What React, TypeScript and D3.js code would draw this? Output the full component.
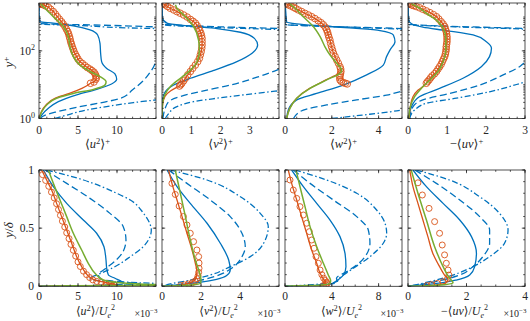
import React from 'react';
import * as d3 from 'd3';

type Pt = [number, number];

// ---------- top row: inner scaling, points are [value, y+] ----------
const uuPlusSolid: Pt[] = [[0.04,1],[0.34,1.26],[1.2,2.0],[2.48,3.16],[4.83,5.01],[7.39,7.24],[9.3,10.5],[9.96,14.5],[9.74,20.9],[8.68,30.2],[8.03,47.9],[7.9,85.1],[7.82,166],[7.52,295],[6.54,417],[4.4,550],[1.84,661],[0.13,724],[0,1288],[0,2630]];
const uuPlusDash: Pt[] = [[0.13,1],[0.8,1.26],[2.3,1.58],[4.8,2.14],[7.8,2.88],[10.5,3.98],[12.0,7.08],[13.5,14.1],[14.5,28.2],[15.5,63.1],[25,158],[30,316],[25,447],[15,513],[8,575],[2,617],[0,646],[0,2630]];
const uuPlusDashDot: Pt[] = [[2.05,1],[3.55,1.26],[6.1,1.78],[9.1,2.34],[12.1,2.95],[15,3.55],[25,10],[40,63.1],[40,251],[20,437],[15,457],[5,562],[0,631],[0,2630]];
const uuPlusGreen: Pt[] = [[0.04,1],[0.34,1.58],[0.98,2.51],[2.26,3.98],[4.4,5.5],[6.97,7.24],[8.46,9.77],[8.6,12.3],[7.82,17.4],[6.54,24.5],[5.26,38.0],[4.4,67.6],[3.97,132],[3.76,263],[3.12,525],[2.05,912],[0.98,1622],[0.21,2455]];
const uuPlusWall: Pt[] = [[0.04,1],[0.3,1.58],[0.9,2.51],[2.1,3.98],[3.9,5.5],[5.5,7.76],[6.3,9.77]];
const uuPlusMarks: Pt[] = [[6.6,11.0],[7.05,12.0],[7.3,14.5],[7.35,16.3],[7.3,18.2],[7.2,20.6],[7.05,23.4],[6.8,26],[6.54,28.8],[6.2,32],[5.9,36.3],[5.58,42],[5.26,47.9],[5.0,57],[4.83,67.6],[4.65,80],[4.49,95.5],[4.38,112],[4.27,132],[4.16,158],[4.06,186],[3.98,225],[3.9,263],[3.8,315],[3.68,372],[3.5,440],[3.33,525],[3.1,620],[2.9,724],[2.62,860],[2.35,1023],[2.1,1220],[1.84,1445],[1.5,1700],[1.2,1950],[0.85,2130],[0.56,2291],[0.3,2400],[0.13,2455],[0.05,2570]];

const vvPlusSolid: Pt[] = [[0,1],[0.02,3.55],[0.11,6.17],[0.4,9.77],[0.97,15.5],[1.77,26.3],[2.56,47.9],[3.08,85.1],[3.27,148],[3.16,234],[2.68,355],[1.88,457],[0.85,550],[0.17,661],[0.02,912],[0,2630]];
const vvPlusDash: Pt[] = [[0.03,1],[0.09,1.78],[0.23,3.16],[0.63,4.47],[1.42,6.6],[2.34,9.77],[3.25,16.6],[3.93,26.9],[5,63.1],[6,200],[5,398],[4,457],[2,513],[0.5,575],[0,631],[0,2630]];
const vvPlusDashDot: Pt[] = [[0.11,1],[0.23,1.41],[0.51,2.24],[1.08,3.16],[1.88,3.98],[2.79,5.01],[3.7,6.17],[4.2,7.0],[6,31.6],[8,158],[6,355],[4,427],[1.5,501],[0,603],[0,2630]];
const vvPlusGreen: Pt[] = [[0,1],[0.02,2.82],[0.09,4.9],[0.28,8.7],[0.63,15.5],[0.97,26.9],[1.2,47.9],[1.28,107],[1.25,209],[1.08,525],[0.8,1023],[0.51,1820],[0.46,2291]];
const vvPlusWall: Pt[] = [[0,1],[0.02,2.5],[0.1,4.5],[0.3,6.6],[0.5,8.3]];
const vvPlusMarks: Pt[] = [[0.6,9.12],[0.64,10],[0.68,11.0],[0.74,13],[0.8,15.5],[0.88,19.5],[0.97,24.5],[1.05,30.5],[1.14,38.0],[1.22,48],[1.28,60.3],[1.31,76],[1.34,95.5],[1.36,120],[1.37,148],[1.37,186],[1.37,234],[1.35,280],[1.33,331],[1.29,400],[1.25,468],[1.2,560],[1.14,661],[1.06,750],[0.97,851],[0.86,1000],[0.74,1148],[0.62,1300],[0.51,1445],[0.4,1620],[0.28,1820],[0.19,2050],[0.11,2291],[0.05,2430],[0,2570]];

const wwPlusSolid: Pt[] = [[0.07,1],[0.14,1.78],[0.5,3.55],[1.35,5.5],[2.49,9.77],[3.49,19.5],[4.2,38.0],[4.34,67.6],[4.49,107],[4.7,186],[4.63,295],[4.06,398],[2.92,468],[1.5,550],[0.5,631],[0.07,724],[0.03,1500],[0,2630]];
const wwPlusDash: Pt[] = [[0.36,1],[0.78,1.78],[1.78,2.51],[3.06,3.55],[4.34,4.9],[4.89,6.17],[7,31.6],[9,158],[7,355],[5,457],[2,525],[0,603],[0,2630]];
const wwPlusDashDot: Pt[] = [[2.0,1],[3.3,1.26],[4.5,1.58],[5.2,1.9],[9,6.3],[12,63.1],[10,251],[5,437],[2,525],[0,603],[0,2630]];
const wwPlusGreen: Pt[] = [[0.07,1],[0.21,2.0],[0.5,3.98],[1.07,7.76],[1.78,13.8],[2.35,21.9],[2.42,26.9],[2.21,42.7],[1.92,75.9],[1.71,132],[1.5,263],[1.21,525],[0.78,1023],[0.43,1820],[0.21,2455]];
const wwPlusWall: Pt[] = [[0.07,1],[0.2,2.0],[0.5,3.98],[1.05,7.76],[1.75,13.8],[2.3,21.9]];
const wwPlusMarks: Pt[] = [[2.66,10.5],[2.58,11],[2.49,11.5],[2.4,12.5],[2.35,13.8],[2.34,16],[2.35,18.2],[2.37,21],[2.39,24.5],[2.38,29],[2.35,33.9],[2.28,43],[2.21,53.7],[2.14,68],[2.07,85.1],[2.03,106],[1.99,132],[1.95,166],[1.92,209],[1.88,250],[1.85,295],[1.82,355],[1.78,417],[1.72,500],[1.64,589],[1.54,680],[1.42,776],[1.28,900],[1.14,1023],[1.0,1150],[0.85,1288],[0.71,1450],[0.57,1622],[0.46,1780],[0.36,1950],[0.25,2120],[0.14,2291],[0.06,2430],[0,2570]];

const uvPlusSolid: Pt[] = [[0.02,1],[0.09,2.24],[0.3,4.47],[0.81,7.76],[1.41,15.5],[1.88,33.9],[2.09,67.6],[2.14,120],[2.01,186],[1.67,295],[0.98,398],[0.38,501],[0.09,631],[0.02,813],[0,2630]];
const uvPlusDash: Pt[] = [[0.04,1],[0.13,2.24],[0.38,3.55],[1.07,5.5],[1.84,9.77],[2.44,19.5],[2.86,33.9],[3.03,47.9],[4,100],[4.5,251],[3.5,417],[3,457],[1,537],[0,617],[0,2630]];
const uvPlusDashDot: Pt[] = [[0.04,1],[0.17,1.78],[0.47,2.82],[1.24,3.98],[2.09,6.17],[3.03,12.3],[5,63.1],[5,251],[3.5,398],[3,437],[1,525],[0,603],[0,2630]];
const uvPlusGreen: Pt[] = [[0.02,1],[0.06,2.24],[0.17,4.47],[0.34,7.76],[0.56,13.8],[0.77,24.5],[0.9,47.9],[0.97,107],[0.97,234],[0.9,468],[0.73,813],[0.47,1288],[0.26,1950],[0.09,2455]];
const uvPlusWall: Pt[] = [[0.03,1],[0.06,2.24],[0.13,4.47],[0.26,6.92],[0.43,9.77]];
const uvPlusMarks: Pt[] = [[0.47,11.0],[0.5,12.3],[0.54,13.8],[0.58,16],[0.62,18.2],[0.68,21],[0.73,24.5],[0.77,29],[0.81,33.9],[0.85,40],[0.88,47.9],[0.91,57],[0.94,67.6],[0.96,81],[0.97,95.5],[0.98,112],[0.98,132],[0.99,158],[1.0,186],[1.0,222],[1.0,263],[0.99,315],[0.98,372],[0.96,440],[0.94,525],[0.9,620],[0.85,724],[0.79,870],[0.73,1023],[0.65,1180],[0.56,1349],[0.47,1520],[0.38,1698],[0.3,1870],[0.21,2042],[0.14,2180],[0.09,2291],[0.04,2430],[0,2570]];

// ---------- bottom row: outer scaling, points are [value x1e3, y/delta] ----------
const uuOutSolid: Pt[] = [[0.56,1],[1.84,0.857],[3.55,0.713],[5.68,0.57],[7.39,0.456],[8.33,0.34],[8.59,0.226],[8.68,0.155],[8.9,0.097],[9.74,0.069],[10.5,0.045],[10.8,0.025],[9.5,0.012],[5,0.004],[0,0]];
const uuOutDash: Pt[] = [[0.77,1],[3.55,0.885],[6.54,0.756],[9.1,0.627],[10.8,0.513],[11.15,0.398],[10.8,0.3],[9.8,0.22],[8.5,0.15],[7.6,0.1],[8.0,0.06],[11,0.035],[13,0.02],[10,0.01],[4,0.004],[0,0]];
const uuOutDashDot: Pt[] = [[1.0,1],[5.7,0.914],[9.96,0.8],[11.7,0.742],[13.4,0.628],[14.2,0.54],[14.4,0.484],[13.2,0.33],[11.7,0.255],[9.5,0.16],[7.5,0.1],[6.5,0.07],[8,0.045],[13,0.03],[16,0.02],[12,0.01],[5,0.004],[0,0]];
const uuOutGreen: Pt[] = [[1.2,1],[1.84,0.885],[2.69,0.742],[3.55,0.599],[4.4,0.456],[5.47,0.312],[6.32,0.198],[7.18,0.112],[8.25,0.054],[10.4,0.031],[12.9,0.02],[16,0.013],[20,0.009],[12,0.0075],[4,0.005],[0,0]];
const uuOutOrange: Pt[] = [[0.34,1],[0.98,0.914],[1.62,0.828],[2.26,0.713],[2.9,0.599],[3.55,0.484],[4.19,0.37],[4.83,0.255],[5.47,0.169],[6.03,0.112],[6.54,0.077],[7.39,0.049],[8.68,0.031],[9.53,0.02],[9.8,0.012],[7,0.006],[2,0.002],[0,0]];
const uuOutMarks: Pt[] = [[0.45,0.96],[0.85,0.91],[1.25,0.86],[1.6,0.81],[1.95,0.76],[2.25,0.71],[2.5,0.66],[2.75,0.61],[3.0,0.56],[3.3,0.51],[3.55,0.46],[3.85,0.41],[4.1,0.36],[4.4,0.31],[4.7,0.26],[5.0,0.21],[5.3,0.17],[5.7,0.13],[6.1,0.1],[6.5,0.075],[6.9,0.055],[7.4,0.042],[8.0,0.032],[8.6,0.025],[9.2,0.018],[9.6,0.012],[9.4,0.007],[8.5,0.003]];

const vvOutSolid: Pt[] = [[0.26,1],[0.77,0.857],[1.45,0.713],[2.31,0.542],[2.99,0.37],[3.42,0.226],[3.5,0.14],[3.3,0.09],[2.8,0.06],[2.0,0.035],[1.0,0.015],[0.3,0.005],[0,0]];
const vvOutDash: Pt[] = [[0.34,1],[1.28,0.885],[2.48,0.742],[3.5,0.599],[4.1,0.456],[4.27,0.341],[4.1,0.255],[3.68,0.169],[2.8,0.09],[1.8,0.045],[0.8,0.015],[0,0]];
const vvOutDashDot: Pt[] = [[0.43,1],[2.31,0.914],[4.02,0.77],[5.04,0.627],[5.45,0.513],[5.21,0.37],[4.53,0.255],[3.5,0.169],[2.48,0.097],[1.45,0.054],[0.43,0.02],[0,0]];
const vvOutGreen: Pt[] = [[0.68,1],[0.94,0.8],[1.2,0.599],[1.45,0.398],[1.71,0.226],[1.93,0.112],[2.0,0.054],[1.97,0.026],[1.5,0.012],[0.5,0.005],[0,0]];
const vvOutOrange: Pt[] = [[0.34,1],[0.51,0.885],[0.77,0.742],[1.03,0.599],[1.28,0.456],[1.54,0.312],[1.71,0.198],[1.79,0.126],[1.75,0.07],[1.5,0.035],[1.1,0.015],[0.8,0]];
const vvOutMarks: Pt[] = [[0.51,0.885],[0.68,0.79],[0.88,0.69],[1.1,0.6],[1.28,0.527],[1.45,0.456],[1.62,0.384],[1.79,0.312],[1.88,0.255],[1.9,0.2],[1.9,0.155],[1.88,0.12],[1.85,0.09],[1.8,0.065],[1.7,0.045],[1.55,0.03],[1.35,0.02],[1.15,0.012],[0.95,0.006]];

const wwOutSolid: Pt[] = [[0.57,1],[1.57,0.857],[2.71,0.713],[3.85,0.57],[4.7,0.427],[5.13,0.283],[5.21,0.169],[4.99,0.097],[4.6,0.06],[4.3,0.035],[3.5,0.015],[1.5,0.004],[0,0]];
const wwOutDash: Pt[] = [[0.71,1],[2.14,0.885],[4.13,0.742],[6.13,0.599],[7.12,0.484],[7.26,0.37],[6.84,0.255],[6.13,0.183],[5.27,0.126],[4.4,0.069],[4.5,0.035],[3.5,0.015],[1.5,0.004],[0,0]];
const wwOutDashDot: Pt[] = [[0.85,1],[3.56,0.914],[6.13,0.8],[7.83,0.656],[8.55,0.542],[8.69,0.456],[8.4,0.37],[7.26,0.255],[5.84,0.155],[4.6,0.069],[4.2,0.035],[2.42,0.015],[0.8,0.004],[0,0]];
const wwOutGreen: Pt[] = [[0.94,1],[1.28,0.857],[1.71,0.685],[2.14,0.513],[2.71,0.341],[3.28,0.198],[3.7,0.097],[3.9,0.048],[3.85,0.026],[3.0,0.01],[1.0,0.004],[0,0]];
const wwOutOrange: Pt[] = [[0.28,1],[0.57,0.885],[1.0,0.742],[1.42,0.599],[1.85,0.456],[2.28,0.312],[2.71,0.198],[3.0,0.112],[3.3,0.06],[3.5,0.03],[3.3,0.012],[2.9,0]];
const wwOutMarks: Pt[] = [[0.43,0.914],[0.71,0.828],[1.0,0.756],[1.28,0.685],[1.57,0.613],[1.85,0.542],[2.08,0.47],[2.28,0.398],[2.48,0.327],[2.65,0.255],[2.85,0.198],[3.0,0.14],[3.15,0.1],[3.3,0.07],[3.45,0.05],[3.55,0.035],[3.6,0.024],[3.5,0.015],[3.3,0.008]];

const uvOutSolid: Pt[] = [[0.17,1],[0.63,0.857],[1.2,0.713],[1.77,0.57],[2.17,0.427],[2.34,0.283],[2.28,0.169],[2.11,0.097],[1.65,0.054],[0.85,0.02],[0,0]];
const uvOutDash: Pt[] = [[0.23,1],[0.97,0.885],[1.77,0.742],[2.45,0.599],[2.79,0.484],[2.79,0.37],[2.56,0.255],[2.22,0.169],[1.77,0.097],[1.08,0.048],[0.28,0.011],[0,0]];
const uvOutDashDot: Pt[] = [[0.28,1],[1.42,0.914],[2.45,0.77],[3.13,0.627],[3.42,0.484],[3.3,0.37],[2.79,0.255],[2.22,0.169],[1.54,0.097],[0.74,0.04],[0.17,0.008],[0,0]];
const uvOutGreen: Pt[] = [[0.11,1],[0.34,0.8],[0.63,0.57],[0.91,0.341],[1.2,0.169],[1.42,0.069],[1.54,0.031],[1.0,0.008],[0.3,0.003],[0,0]];
const uvOutOrange: Pt[] = [[0.06,1],[0.17,0.857],[0.34,0.713],[0.51,0.57],[0.68,0.427],[0.85,0.283],[1.08,0.169],[1.25,0.097],[1.37,0.06],[1.3,0.03],[1.0,0.012],[0.6,0]];
const uvOutMarks: Pt[] = [[0.34,0.89],[0.49,0.785],[0.72,0.67],[0.91,0.556],[1.08,0.456],[1.17,0.355],[1.25,0.27],[1.31,0.198],[1.37,0.14],[1.4,0.097],[1.35,0.065],[1.2,0.04],[1.0,0.025],[0.8,0.014],[0.65,0.006]];

// axis limits and tick labels
const topXMax = [15, 4, 5, 3];
const topXTicks = [[0, 5, 10], [0, 1, 2, 3], [0, 2, 4], [0, 1, 2, 3]];
const topXMinor = [1, 0.2, 0.5, 0.2];
const botXMax = [15, 6, 10, 4];
const botXTicks = [[0, 5, 10], [0, 2, 4], [0, 4, 8], [0, 2, 4]];
const botXMinor = [1, 0.5, 1, 0.5];
const yPlusMax = 2600;
const yPlusTicks = [1, 100];
const yOuterTicks = [0, 0.5, 1];
const components = ['u', 'v', 'w', 'uv'];

const BLUE = '#0072BD';
const ORANGE = '#D95319';
const GREEN = '#77AC30';
const AXIS = '#262626';
const FONT = 'Liberation Serif, Times New Roman, DejaVu Serif, serif';

const colLeft = [39, 162, 285, 408];
const colW = 117;
const rows = [
  { top: 3, bottom: 118.5 },
  { top: 170, bottom: 286.3 },
];

interface Series { solid: Pt[]; dash: Pt[]; dashDot: Pt[]; green: Pt[]; orange: Pt[]; marks: Pt[] }

const joinWall = (wall: Pt[], marks: Pt[]): Pt[] =>
  wall.concat(marks.filter(d => d[1] > wall[wall.length - 1][1]));

const topSeries: Series[] = [
  { solid: uuPlusSolid, dash: uuPlusDash, dashDot: uuPlusDashDot, green: uuPlusGreen, orange: joinWall(uuPlusWall, uuPlusMarks), marks: uuPlusMarks },
  { solid: vvPlusSolid, dash: vvPlusDash, dashDot: vvPlusDashDot, green: vvPlusGreen, orange: joinWall(vvPlusWall, vvPlusMarks), marks: vvPlusMarks },
  { solid: wwPlusSolid, dash: wwPlusDash, dashDot: wwPlusDashDot, green: wwPlusGreen, orange: joinWall(wwPlusWall, wwPlusMarks), marks: wwPlusMarks },
  { solid: uvPlusSolid, dash: uvPlusDash, dashDot: uvPlusDashDot, green: uvPlusGreen, orange: joinWall(uvPlusWall, uvPlusMarks), marks: uvPlusMarks },
];
const botSeries: Series[] = [
  { solid: uuOutSolid, dash: uuOutDash, dashDot: uuOutDashDot, green: uuOutGreen, orange: uuOutOrange, marks: uuOutMarks },
  { solid: vvOutSolid, dash: vvOutDash, dashDot: vvOutDashDot, green: vvOutGreen, orange: vvOutOrange, marks: vvOutMarks },
  { solid: wwOutSolid, dash: wwOutDash, dashDot: wwOutDashDot, green: wwOutGreen, orange: wwOutOrange, marks: wwOutMarks },
  { solid: uvOutSolid, dash: uvOutDash, dashDot: uvOutDashDot, green: uvOutGreen, orange: uvOutOrange, marks: uvOutMarks },
];

function XLabel({ comp, outer, x, y }: { comp: string; outer: boolean; x: number; y: number }) {
  const sq = comp !== 'uv';
  return (
    <text x={x} y={y} textAnchor="middle" fontSize={outer ? 12 : 12.5} fill={AXIS} fontFamily={FONT}>
      {sq ? '' : '\u2212'}{'\u27E8'}
      <tspan fontStyle="italic">{comp}</tspan>
      {sq && <tspan dy={-4} fontSize={8.5}>2</tspan>}
      <tspan dy={sq ? 4 : 0}>{'\u27E9'}</tspan>
      {outer ? (
        <>
          <tspan>/</tspan>
          <tspan fontStyle="italic">U</tspan>
          <tspan dy={3} fontSize={8} fontStyle="italic">e</tspan>
          <tspan dy={-7.5} fontSize={8}>2</tspan>
        </>
      ) : (
        <tspan dy={-4.5} fontSize={8.5}>+</tspan>
      )}
    </text>
  );
}

function Panel({ row, col }: { row: number; col: number }) {
  const left = colLeft[col];
  const right = left + colW;
  const { top, bottom } = rows[row];
  const xMax = row === 0 ? topXMax[col] : botXMax[col];
  const ticks = row === 0 ? topXTicks[col] : botXTicks[col];
  const minorStep = row === 0 ? topXMinor[col] : botXMinor[col];
  const s = row === 0 ? topSeries[col] : botSeries[col];

  const x = d3.scaleLinear().domain([0, xMax]).range([left, right]);
  const y: any = row === 0
    ? d3.scaleLog().domain([1, yPlusMax]).range([bottom, top])
    : d3.scaleLinear().domain([0, 1]).range([bottom, top]);

  const line = d3.line<Pt>().x(d => x(d[0])).y(d => y(d[1])).curve(d3.curveMonotoneY);

  const xMinor = d3.range(0, xMax + 1e-9, minorStep);
  const yMinor: number[] = row === 0
    ? [1, 10, 100, 1000].flatMap(dec => d3.range(1, 10).map(k => k * dec)).filter(v => v <= yPlusMax)
    : d3.range(0, 1.0001, 0.1);
  const yMajor = row === 0 ? yPlusTicks : yOuterTicks;
  const clipId = `clip-${row}-${col}`;
  const maj = 3.2;
  const mn = 1.8;

  return (
    <g>
      <defs>
        <clipPath id={clipId}>
          <rect x={left} y={top} width={colW} height={bottom - top} />
        </clipPath>
      </defs>
      <g clipPath={`url(#${clipId})`} fill="none" strokeWidth={1.3}>
        <path d={line(s.dashDot) || ''} stroke={BLUE} strokeDasharray="6,2.5,1.5,2.5" />
        <path d={line(s.dash) || ''} stroke={BLUE} strokeDasharray="7,3.5" />
        <path d={line(s.solid) || ''} stroke={BLUE} />
        <path d={line(s.orange) || ''} stroke={ORANGE} />
        {s.marks.map((d, i) => (
          <circle key={i} cx={x(d[0])} cy={y(d[1])} r={row === 0 ? 3.3 : 3} stroke={ORANGE} strokeWidth={0.9} />
        ))}
        <path d={line(s.green) || ''} stroke={GREEN} strokeWidth={1.5} />
      </g>
      <g stroke={AXIS} strokeWidth={0.8}>
        <rect x={left} y={top} width={colW} height={bottom - top} fill="none" />
        {xMinor.map((v, i) => (
          <g key={'xm' + i}>
            <line x1={x(v)} x2={x(v)} y1={bottom} y2={bottom - mn} />
            <line x1={x(v)} x2={x(v)} y1={top} y2={top + mn} />
          </g>
        ))}
        {ticks.map((v, i) => (
          <g key={'xM' + i}>
            <line x1={x(v)} x2={x(v)} y1={bottom} y2={bottom - maj} />
            <line x1={x(v)} x2={x(v)} y1={top} y2={top + maj} />
          </g>
        ))}
        {yMinor.map((v, i) => (
          <g key={'ym' + i}>
            <line x1={left} x2={left + mn} y1={y(v)} y2={y(v)} />
            <line x1={right} x2={right - mn} y1={y(v)} y2={y(v)} />
          </g>
        ))}
        {yMajor.map((v, i) => (
          <g key={'yM' + i}>
            <line x1={left} x2={left + maj} y1={y(v)} y2={y(v)} />
            <line x1={right} x2={right - maj} y1={y(v)} y2={y(v)} />
          </g>
        ))}
      </g>
      <g fontSize={11.5} fill={AXIS} textAnchor="middle" fontFamily={FONT}>
        {ticks.map((v, i) => (
          <text key={i} x={x(v)} y={row === 0 ? 134 : 299.5}>{v}</text>
        ))}
      </g>
      {col === 0 && (
        <g fontSize={11.5} fill={AXIS} textAnchor="end" fontFamily={FONT}>
          {row === 0
            ? yMajor.map((v, i) => (
                <text key={i} x={35} y={y(v) + 4}>
                  10<tspan dy={-4.5} fontSize={8}>{Math.round(Math.log10(v))}</tspan>
                </text>
              ))
            : yMajor.map((v, i) => (
                <text key={i} x={34} y={y(v) + 4}>{v}</text>
              ))}
        </g>
      )}
      <XLabel comp={components[col]} outer={row === 1} x={(left + right) / 2 - (row === 1 ? 2 : 0)} y={row === 0 ? 148 : 314.5} />
      {row === 1 && (
        <text x={right + 1.5} y={316.5} textAnchor="end" fontSize={10} fill={AXIS} fontFamily={FONT}>
          {'\u00D7'}10<tspan dy={-4} fontSize={7}>{'\u2212'}3</tspan>
        </text>
      )}
    </g>
  );
}

export default function App() {
  return (
    <svg width={530} height={321} style={{ position: 'absolute', left: 0, top: 0 }} fontFamily={FONT}>
      <rect width={530} height={321} fill="#fff" />
      {[0, 1].map(r => [0, 1, 2, 3].map(c => <Panel key={`${r}-${c}`} row={r} col={c} />))}
      <text transform="translate(13,62) rotate(-90)" textAnchor="middle" fontSize={13} fill={AXIS} fontFamily={FONT}>
        <tspan fontStyle="italic">y</tspan><tspan dy={-4.5} fontSize={9}>+</tspan>
      </text>
      <text transform="translate(13,230) rotate(-90)" textAnchor="middle" fontSize={13} fill={AXIS} fontFamily={FONT}>
        <tspan fontStyle="italic">y</tspan>/<tspan fontStyle="italic">{'\u03B4'}</tspan>
      </text>
    </svg>
  );
}
